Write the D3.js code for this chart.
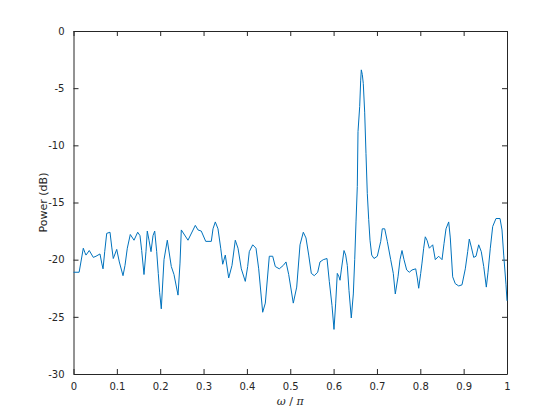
<!DOCTYPE html>
<html>
<head>
<meta charset="utf-8">
<script src="https://cdn.jsdelivr.net/npm/d3@7"></script>
<style>
  html, body { margin: 0; padding: 0; background: #fff; }
  svg { display: block; }
  text { font-family: "DejaVu Sans", sans-serif; }
</style>
</head>
<body>
<svg id="chart" width="560" height="420"></svg>
<script>
// normalized frequency (omega / pi)
const freq = [0, 0.013, 0.0226, 0.0265, 0.0288, 0.0364, 0.0457, 0.0519, 0.0611, 0.0651, 0.0681, 0.0720, 0.0766, 0.0842, 0.0882, 0.0918, 0.0997, 0.1057, 0.1142, 0.1188, 0.1241, 0.1310, 0.1396, 0.1481, 0.1534, 0.1573, 0.1626, 0.1672, 0.1702, 0.1742, 0.1788, 0.1834, 0.1873, 0.1919, 0.1956, 0.1988, 0.2025, 0.2088, 0.2164, 0.2256, 0.2318, 0.2411, 0.2457, 0.2487, 0.2641, 0.2810, 0.2872, 0.2948, 0.3050, 0.3179, 0.3218, 0.3271, 0.3333, 0.3396, 0.3442, 0.3502, 0.3580, 0.3656, 0.3732, 0.3795, 0.3871, 0.3963, 0.4018, 0.4055, 0.4134, 0.4210, 0.4272, 0.4364, 0.4425, 0.4517, 0.4595, 0.4655, 0.4747, 0.4840, 0.4902, 0.4964, 0.5070, 0.5149, 0.5225, 0.5301, 0.5363, 0.5426, 0.5486, 0.5555, 0.5633, 0.5686, 0.5762, 0.5848, 0.5901, 0.5963, 0.6009, 0.6048, 0.6085, 0.6125, 0.6148, 0.6178, 0.6240, 0.6279, 0.6316, 0.6355, 0.6408, 0.6455, 0.6487, 0.6517, 0.6547, 0.6563, 0.6602, 0.6625, 0.6639, 0.6662, 0.6685, 0.6717, 0.6747, 0.6777, 0.6810, 0.6840, 0.6879, 0.6932, 0.7008, 0.7087, 0.7123, 0.7179, 0.7239, 0.7317, 0.7377, 0.7423, 0.7486, 0.7532, 0.7578, 0.7624, 0.7686, 0.7746, 0.7809, 0.7894, 0.7931, 0.7963, 0.8009, 0.8039, 0.8078, 0.8115, 0.8155, 0.8208, 0.8286, 0.8346, 0.8424, 0.8501, 0.8547, 0.8593, 0.8655, 0.8692, 0.8747, 0.8807, 0.8886, 0.8962, 0.9038, 0.9093, 0.9130, 0.9177, 0.9232, 0.9285, 0.9347, 0.9407, 0.9463, 0.9523, 0.9562, 0.9615, 0.9670, 0.9746, 0.9839, 0.9885, 0.9924, 0.9977, 1.0];
// power in dB
const power = [-21.1, -21.1, -19.0, -19.4, -19.6, -19.2, -19.8, -19.7, -19.5, -20.3, -20.8, -19.3, -17.7, -17.6, -18.9, -19.9, -19.1, -20.2, -21.4, -20.5, -19.0, -17.8, -18.3, -17.6, -17.9, -19.2, -21.3, -19.3, -17.5, -18.3, -19.3, -17.9, -17.5, -19.3, -21.2, -22.9, -24.3, -20.0, -18.3, -20.6, -21.3, -23.1, -20.3, -17.4, -18.3, -17.0, -17.4, -17.5, -18.4, -18.4, -17.3, -16.7, -17.3, -19.0, -20.4, -19.6, -21.6, -20.5, -18.3, -19.0, -20.8, -21.9, -20.6, -19.3, -18.7, -19.0, -20.8, -24.6, -23.8, -19.7, -19.7, -20.6, -20.8, -20.5, -20.2, -21.3, -23.8, -22.4, -18.7, -17.6, -18.1, -19.6, -21.2, -21.4, -21.1, -20.2, -20.0, -19.9, -21.9, -24.0, -26.1, -23.8, -21.2, -21.5, -21.8, -20.9, -19.2, -19.6, -20.5, -22.7, -25.1, -23.0, -20.0, -16.7, -13.6, -8.8, -6.6, -4.3, -3.4, -3.8, -4.6, -7.1, -10.7, -14.2, -16.5, -18.3, -19.6, -19.9, -19.7, -18.4, -17.3, -17.3, -18.4, -20.0, -21.2, -23.0, -21.5, -20.0, -19.2, -20.0, -20.9, -21.1, -20.9, -20.8, -21.6, -22.5, -21.2, -20.3, -19.0, -18.0, -18.3, -19.0, -18.7, -20.0, -19.7, -20.0, -18.6, -17.3, -16.7, -18.1, -21.5, -22.1, -22.3, -22.2, -20.8, -19.3, -18.2, -18.9, -19.8, -19.7, -18.7, -19.3, -20.6, -22.4, -21.1, -19.0, -17.1, -16.4, -16.4, -17.4, -19.6, -22.2, -23.6];
const xTicks = [0, 0.1, 0.2, 0.3, 0.4, 0.5, 0.6, 0.7, 0.8, 0.9, 1];
const yTicks = [0, -5, -10, -15, -20, -25, -30];

const margin = { left: 73.5, right: 53, top: 31, bottom: 46 };
const W = 560, H = 420;
const svg = d3.select("#chart");
const axisColor = "#262626";

const x = d3.scaleLinear().domain([0, 1]).range([margin.left, W - margin.right]);
const y = d3.scaleLinear().domain([-30, 0]).range([H - margin.bottom, margin.top]);

const tickLen = 5;
const fmt = d => String(d);

function styleAxis(g, hideLabels) {
  g.select(".domain").attr("stroke", axisColor).attr("stroke-width", 1);
  g.selectAll(".tick line").attr("stroke", axisColor).attr("stroke-width", 1);
  g.selectAll(".tick text").attr("fill", axisColor).style("font-size", "10px")
    .style("font-family", "'DejaVu Sans', sans-serif");
  if (hideLabels) g.selectAll(".tick text").remove();
}

// bottom
svg.append("g").attr("transform", `translate(0,${y(-30)})`)
  .call(d3.axisBottom(x).tickValues(xTicks).tickFormat(fmt).tickSizeInner(-tickLen).tickSizeOuter(0).tickPadding(9))
  .call(g => styleAxis(g, false));
// top
svg.append("g").attr("transform", `translate(0,${y(0)})`)
  .call(d3.axisTop(x).tickValues(xTicks).tickSizeInner(-tickLen).tickSizeOuter(0))
  .call(g => styleAxis(g, true));
// left
svg.append("g").attr("transform", `translate(${x(0)},0)`)
  .call(d3.axisLeft(y).tickValues(yTicks).tickFormat(fmt).tickSizeInner(-tickLen).tickSizeOuter(0).tickPadding(9))
  .call(g => styleAxis(g, false));
// right
svg.append("g").attr("transform", `translate(${x(1)},0)`)
  .call(d3.axisRight(y).tickValues(yTicks).tickSizeInner(-tickLen).tickSizeOuter(0))
  .call(g => styleAxis(g, true));

// line
const line = d3.line().x((d, i) => x(freq[i])).y(d => y(d));
svg.append("path").datum(power)
  .attr("d", line)
  .attr("fill", "none")
  .attr("stroke", "#0072BD")
  .attr("stroke-width", 1)
  .attr("stroke-linejoin", "round");

// labels
const xl = svg.append("text")
  .attr("x", (x(0) + x(1)) / 2).attr("y", 405)
  .attr("text-anchor", "middle").attr("fill", axisColor)
  .style("font-size", "11px");
xl.append("tspan").style("font-style", "italic").style("font-family", "'DejaVu Serif', serif").text("ω");
xl.append("tspan").text(" / ");
xl.append("tspan").style("font-style", "italic").style("font-family", "'DejaVu Serif', serif").text("π");

svg.append("text")
  .attr("transform", `translate(47,${(y(0) + y(-30)) / 2}) rotate(-90)`)
  .attr("text-anchor", "middle").attr("fill", axisColor)
  .style("font-size", "11px")
  .text("Power (dB)");
</script>
</body>
</html>
